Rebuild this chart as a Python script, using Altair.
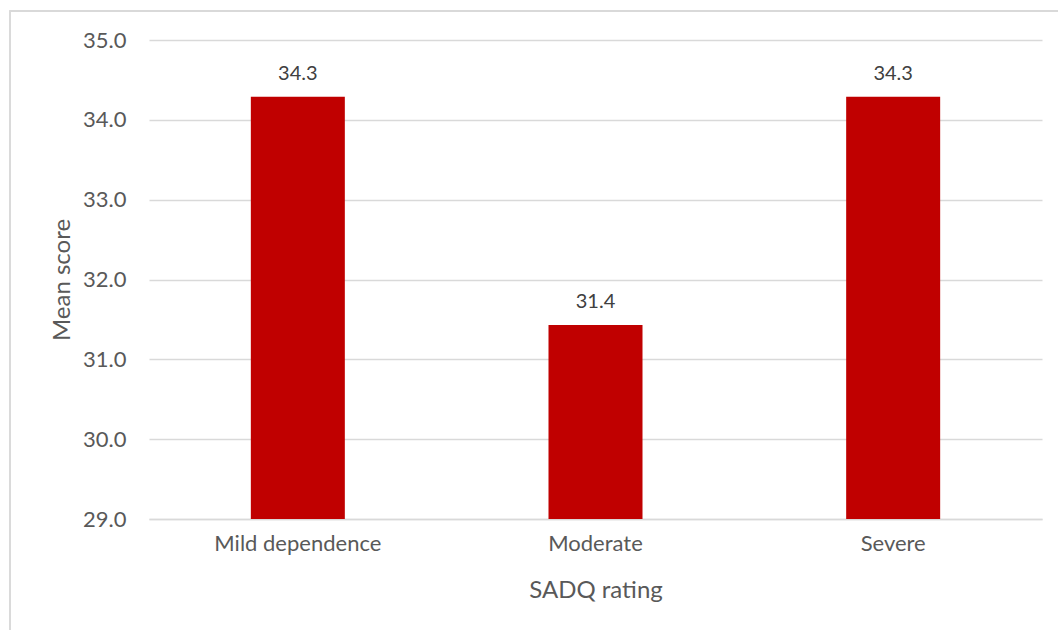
import altair as alt
import pandas as pd

categories = ["Mild dependence", "Moderate", "Severe"]
values = [34.29, 31.43, 34.29]
y_ticks = [29, 30, 31, 32, 33, 34, 35]

df = pd.DataFrame({"rating": categories, "score": values})

FONT = "Lato"
W, H = 893, 479
PL, PT = 149, 40

x_enc = alt.X("rating:N", sort=categories,
              scale=alt.Scale(paddingInner=0, paddingOuter=0),
              axis=alt.Axis(title="SADQ rating", labelAngle=0, ticks=False, tickSize=0,
                            labelPadding=14, labelFontSize=22, labelColor="#595959",
                            labelFont=FONT, domainColor="#d9d9d9", domainWidth=1.3,
                            titleFont=FONT, titleFontSize=24, titleColor="#595959",
                            titleFontWeight="normal", titleY=78, titleBaseline="alphabetic"))
y_scale = alt.Scale(domain=[29, 35], nice=False, zero=False)

bars = alt.Chart(df).mark_bar(size=94, color="#c00000").encode(
    x=x_enc,
    y=alt.Y("score:Q", scale=y_scale,
            axis=alt.Axis(title="Mean score", values=y_ticks, format=".1f", ticks=False,
                          tickSize=0, domain=False, labelPadding=23, labelFontSize=22,
                          labelColor="#595959", labelFont=FONT, gridColor="#d9d9d9",
                          gridWidth=1.3, titleFont=FONT, titleFontSize=24,
                          titleColor="#595959", titleFontWeight="normal",
                          titleX=-80, titleBaseline="alphabetic")),
    y2=alt.datum(29),
)

labels = alt.Chart(df).mark_text(font=FONT, fontSize=20, color="#404040",
                                 baseline="alphabetic", dy=-17).encode(
    x=alt.X("rating:N", sort=categories),
    y=alt.Y("score:Q", scale=y_scale),
    text=alt.Text("score:Q", format=".1f"),
)

border = alt.Chart(df).mark_rect(fill=None, stroke="#d9d9d9", strokeWidth=1.3).encode(
    x=alt.value(-139), x2=alt.value(1058 - PL + 10),
    y=alt.value(-29), y2=alt.value(630 - PT + 10),
)

chart = alt.layer(border, bars, labels).properties(
    width=W, height=H,
    autosize=alt.AutoSizeParams(type="none"),
    padding={"left": PL, "top": PT, "right": 1058 - PL - W, "bottom": 630 - PT - H},
    background="white",
).configure_view(stroke=None)

chart.save("out.html", embed_options={"renderer": "svg", "actions": False})
